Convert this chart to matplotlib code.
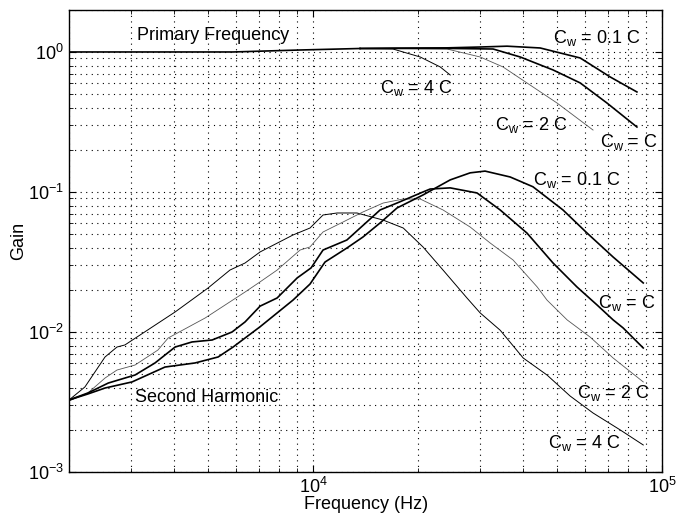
import matplotlib
matplotlib.use("Agg")
import matplotlib.pyplot as plt

plt.rcParams['font.family'] = ['Liberation Sans', 'DejaVu Sans']
plt.rcParams['mathtext.default'] = 'regular'

# Primary frequency gain, one curve per C_w
f_pri_common = [2000, 5900, 9180, 13640]
g_pri_common = [1.0, 1.0, 1.033, 1.059]

f_pri_4c = [16940, 20270, 23130, 24710]
g_pri_4c = [1.05, 0.921, 0.782, 0.685]

f_pri_2c = [16940, 24200, 30110, 35000, 41000, 50000, 63400]
g_pri_2c = [1.06, 1.05, 0.921, 0.782, 0.601, 0.432, 0.277]

f_pri_c = [16940, 24200, 32800, 39210, 48700, 58250, 69500, 84700]
g_pri_c = [1.06, 1.06, 1.05, 0.921, 0.744, 0.601, 0.432, 0.291]

f_pri_01c = [16940, 24200, 30110, 35950, 44740, 58250, 71000, 84700]
g_pri_01c = [1.065, 1.07, 1.085, 1.10, 1.068, 0.906, 0.663, 0.518]

# Second harmonic gain
f_sh_4c = [2000, 2220, 2535, 2743, 2890, 4025, 5000, 5780, 6385, 7050, 8760, 9800,
           10680, 11720, 13360, 15880, 18130, 20650, 23570, 27600, 30100, 34360,
           40000, 46800, 54500, 63400, 75800, 88300]
g_sh_4c = [0.00327, 0.00405, 0.00663, 0.00781, 0.00808, 0.0139, 0.0206, 0.0277,
           0.0311, 0.0373, 0.0493, 0.0553, 0.0685, 0.0708, 0.0708, 0.063, 0.0553,
           0.0405, 0.0277, 0.0175, 0.0137, 0.0103, 0.00652, 0.00493, 0.00349,
           0.00264, 0.0020, 0.00156]

f_sh_2c = [2000, 2265, 2535, 2743, 3090, 3595, 3845, 4910, 6385, 7050, 7890, 9180,
           9800, 10680, 12500, 13900, 15880, 18130, 20270, 23570, 28190, 32170,
           37400, 43850, 46800, 53450, 62200, 72400, 88300]
g_sh_2c = [0.00322, 0.00367, 0.00469, 0.00535, 0.00581, 0.00744, 0.00906, 0.0126,
           0.0193, 0.0228, 0.0277, 0.0385, 0.0405, 0.0518, 0.063, 0.072, 0.0834,
           0.0891, 0.0891, 0.0744, 0.0562, 0.0432, 0.0327, 0.021, 0.0169, 0.0122,
           0.0092, 0.00652, 0.0044]

f_sh_c = [2000, 2265, 2590, 3090, 3525, 4025, 4500, 5140, 5860, 6385, 7050, 7890,
          9000, 9870, 10680, 12500, 15560, 17400, 20650, 21650, 24710, 29500,
          34360, 41000, 48700, 57000, 65100, 72400, 77300, 88300]
g_sh_c = [0.00327, 0.00367, 0.00432, 0.00493, 0.00601, 0.00781, 0.00849, 0.00877,
          0.0100, 0.0118, 0.0153, 0.0175, 0.0243, 0.0287, 0.0385, 0.0454, 0.0744,
          0.0834, 0.100, 0.105, 0.107, 0.0984, 0.0744, 0.0509, 0.0311, 0.021,
          0.0156, 0.0122, 0.0107, 0.00769]

f_sh_01c = [2000, 2265, 2535, 3030, 3765, 4590, 5345, 5900, 6385, 7050, 8760, 9800,
            10820, 12500, 13900, 15560, 17400, 20650, 24710, 28190, 31100, 36700,
            42650, 52000, 60950, 72400, 88300]
g_sh_01c = [0.00327, 0.00361, 0.00398, 0.0044, 0.00562, 0.00601, 0.00663, 0.00781,
            0.00906, 0.0109, 0.0169, 0.022, 0.0316, 0.0398, 0.0477, 0.0601, 0.0769,
            0.0952, 0.122, 0.137, 0.141, 0.128, 0.109, 0.0744, 0.0509, 0.0343, 0.0224]

fig = plt.figure(figsize=(6.84, 5.17), dpi=100)
ax = fig.add_axes([0.101, 0.087, 0.867, 0.894])

thick = dict(color='black', lw=1.2)
thin = dict(color='black', lw=0.7)
thin_gray = dict(color='#555555', lw=0.6)

ax.plot(f_pri_common, g_pri_common, **thick)
ax.plot([f_pri_common[-1]] + f_pri_4c, [g_pri_common[-1]] + g_pri_4c, **thin)
ax.plot([f_pri_common[-1]] + f_pri_2c, [g_pri_common[-1]] + g_pri_2c, **thin_gray)
ax.plot([f_pri_common[-1]] + f_pri_c, [g_pri_common[-1]] + g_pri_c, **thick)
ax.plot([f_pri_common[-1]] + f_pri_01c, [g_pri_common[-1]] + g_pri_01c, **thick)

ax.plot(f_sh_4c, g_sh_4c, **thin)
ax.plot(f_sh_2c, g_sh_2c, **thin_gray)
ax.plot(f_sh_c, g_sh_c, **thick)
ax.plot(f_sh_01c, g_sh_01c, **thick)

ax.set_xscale('log')
ax.set_yscale('log')
ax.set_xlim(2000, 1e5)
ax.set_ylim(1e-3, 2)

ax.grid(True, which='both', color='black', linestyle=(0, (1, 4)), lw=0.8)
ax.tick_params(which='both', direction='in', top=True, right=True, labelsize=13)
ax.tick_params(which='major', length=5)
ax.tick_params(which='minor', length=3)
for s in ax.spines.values():
    s.set_linewidth(1.0)

ax.set_xlabel('Frequency (Hz)', fontsize=13, labelpad=-1)
ax.set_ylabel('Gain', fontsize=13, labelpad=1)

fs = 13
ax.text(3130, 1.32, 'Primary Frequency', fontsize=fs, va='center')
ax.text(3090, 0.00338, 'Second Harmonic', fontsize=fs, va='center')

labels = [
    (48700, 1.26, 'C$_w$ = 0.1 C'),
    (15560, 0.553, 'C$_w$ = 4 C'),
    (33200, 0.301, 'C$_w$ = 2 C'),
    (66400, 0.229, 'C$_w$ = C'),
    (42700, 0.122, 'C$_w$ = 0.1 C'),
    (65600, 0.0161, 'C$_w$ = C'),
    (57000, 0.00367, 'C$_w$ = 2 C'),
    (47100, 0.00161, 'C$_w$ = 4 C'),
]
for x, y, t in labels:
    ax.text(x, y, t, fontsize=fs, va='center')

fig.savefig('out.png', dpi=100)
